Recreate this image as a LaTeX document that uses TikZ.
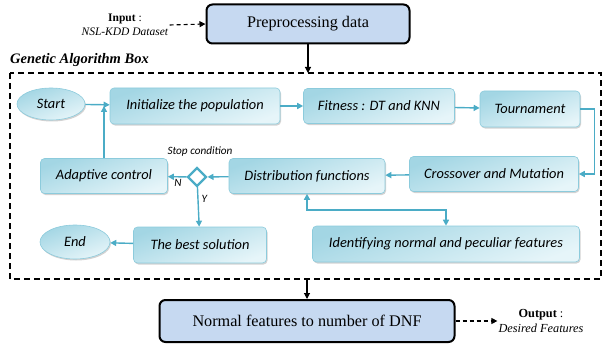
\documentclass[tikz,border=0pt]{standalone}
\usepackage{fontspec}
\setmainfont{Liberation Serif}
\newfontfamily\calib{Carlito}
\usepackage{tikz}
\usetikzlibrary{arrows.meta,shapes.geometric,shadows}
\definecolor{tealline}{HTML}{4BACC6}
\definecolor{tealedge}{HTML}{8CCBDC}
\definecolor{tealdark}{HTML}{A3D6E4}
\definecolor{teallight}{HTML}{E6F5F9}
\definecolor{outfill}{HTML}{C6D9F1}
\tikzset{step box/.style={rectangle, rounded corners=4pt, draw=tealedge, semithick,
  top color=tealdark, bottom color=teallight, shading angle=20,
  drop shadow={shadow xshift=1pt, shadow yshift=-1.5pt, fill=black!35},
  font=\calib\itshape\fontsize{14.4}{16}\selectfont, inner sep=2pt}}
\tikzset{term/.style={step box, ellipse}}
\tikzset{outer box/.style={rectangle, rounded corners=6pt, draw=black, line width=2pt,
  fill=outfill, font=\fontsize{16.2}{18}\selectfont}}
\tikzset{tarc/.style={-{Triangle[length=6pt,width=6pt]}, draw=tealline, line width=1.4pt}}
\tikzset{barc/.style={-{Triangle[length=6pt,width=6pt]}, draw=black, line width=1.1pt}}
\tikzset{darc/.style={barc, dashed, dash pattern=on 4pt off 3pt}}
\tikzset{small/.style={font=\calib\itshape\fontsize{11.2}{12}\selectfont, inner sep=1pt}}

\begin{document}
\begin{tikzpicture}[x=1pt,y=-1pt]
\useasboundingbox (0,0) rectangle (603,345);
% outside the genetic box
\node (pre) at (308,24)[outer box, minimum width=203pt, minimum height=39pt]{Preprocessing data};
\node (dnf) at (307,321)[outer box, minimum width=295pt, minimum height=42pt]{Normal features to number of DNF};
\node (in) at (125,25)[align=center, inner sep=1pt, font=\fontsize{11.5}{14}\selectfont]{\textbf{Input} :\\ \textit{NSL-KDD Dataset}};
\node (out) at (541,321)[align=center, inner sep=1pt, font=\fontsize{12.3}{15}\selectfont]{\textbf{Output} :\\ \textit{Desired Features}};
\node (gab) at (10,60)[anchor=west, inner sep=0pt, font=\bfseries\itshape\fontsize{14.5}{16}\selectfont]{Genetic Algorithm Box};
\draw[black, line width=1.2pt, dash pattern=on 6pt off 4pt] (10,73) rectangle (601,279);
\coordinate (top) at (308,73);
\coordinate (bot) at (307,279);

% genetic algorithm
\node (start) at (51,104)[term, minimum width=68pt, minimum height=32pt]{Start};
\node (init) at (195,106)[step box, minimum width=170pt, minimum height=36pt]{Initialize the population};
\node (fit) at (379,106)[step box, minimum width=151pt, minimum height=35pt]{Fitness : DT and KNN};
\node (tour) at (530,109)[step box, minimum width=100pt, minimum height=36pt]{Tournament};
\node (cross) at (494,174)[step box, minimum width=169pt, minimum height=35pt]{Crossover and Mutation};
\node (dist) at (307,176)[step box, minimum width=156pt, minimum height=35pt]{Distribution functions};
\node (cond) at (197,177)[diamond, draw=tealline, line width=2.2pt, fill=white, minimum size=19pt, inner sep=0pt]{};
\node (adapt) at (104,176)[step box, minimum width=127pt, minimum height=35pt]{Adaptive control};
\node (best) at (200,245)[step box, minimum width=133pt, minimum height=36pt]{The best solution};
\node (end) at (75,242)[term, minimum width=70pt, minimum height=34pt]{End};
\node (ident) at (446,244)[step box, minimum width=267pt, minimum height=36pt]{Identifying normal and peculiar features};
\node (stop) at (200,152)[small]{Stop condition};
\coordinate (j) at (104,106);
\coordinate (k) at (446,210);

\draw[darc] (in.east) -- (pre.west);
\draw[barc] (pre.south) -- (top);
\draw[barc] (bot) -- (dnf.north);
\draw[darc] (dnf.east) -- (out.west);

\draw[tarc] (start) -- (init);
\draw[tarc] (init) -- (fit);
\draw[tarc] (fit) -- (tour);
\draw[tarc] (tour.east) -- ++(14,0) |- (cross.east);
\draw[tarc] (cross) -- (dist);
\draw[tarc] (dist) -- (cond);
\draw[tarc] (cond) -- (adapt) node [pos=0.45, below, small, yshift=-1pt]{N};
\draw[tarc] (cond) -- (best) node [pos=0.3, right, small, xshift=2pt]{Y};
\draw[tarc] (adapt) -- (j);
\draw[tarc] (best) -- (end);
\draw[tarc, {Triangle[length=6pt,width=6pt]}-{Triangle[length=6pt,width=6pt]}] (dist.south) |- (k) -- (ident.north);
\end{tikzpicture}
\end{document}
